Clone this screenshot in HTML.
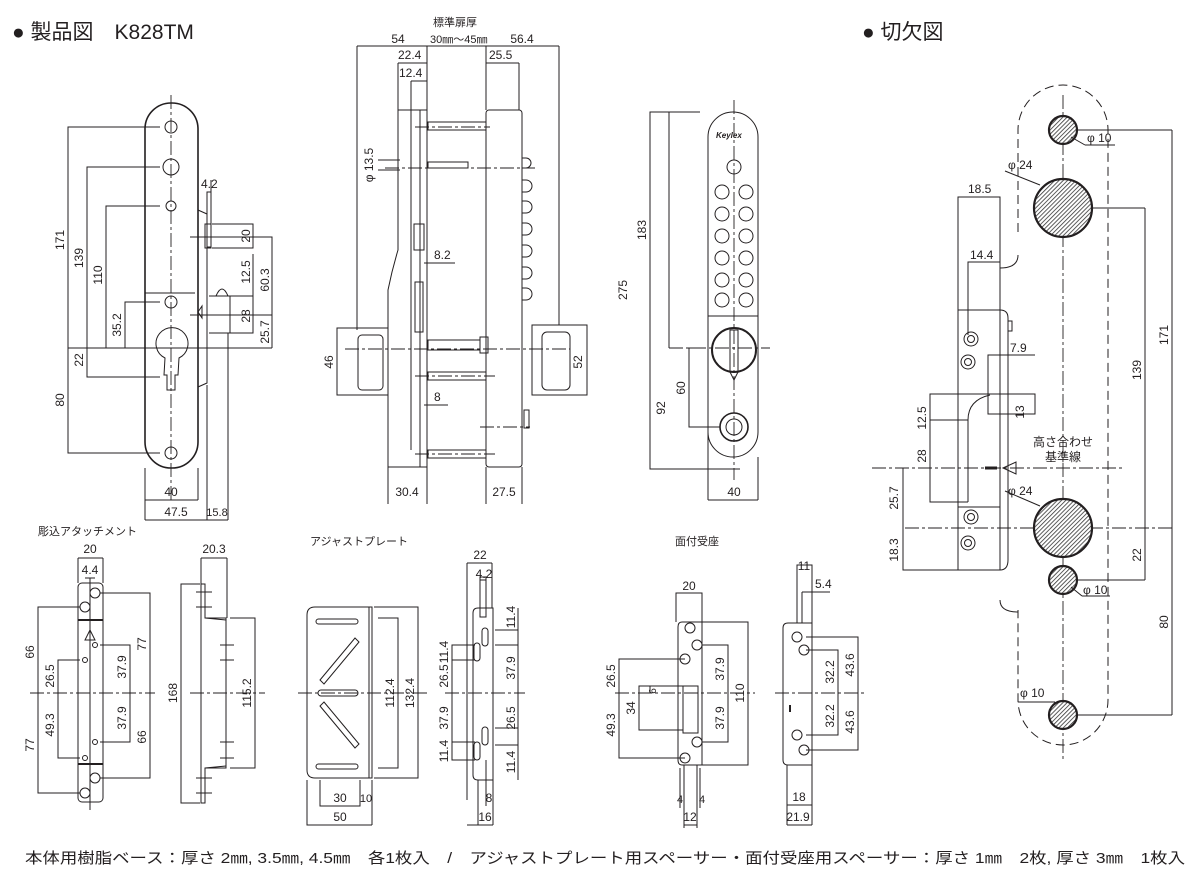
<!DOCTYPE html>
<html><head><meta charset="utf-8"><style>
html,body{margin:0;padding:0;background:#fff;width:1200px;height:874px;overflow:hidden}
svg{display:block}
text{font-family:"Liberation Sans","Noto Sans CJK JP",sans-serif;fill:#231f20;font-size:12px}
.s{fill:none;stroke:#231f20;stroke-width:1}
.t{fill:none;stroke:#231f20;stroke-width:1.6}
.d{fill:none;stroke:#231f20;stroke-width:0.9;stroke-dasharray:14 3 3 3}
.h{fill:url(#hat);stroke:#231f20;stroke-width:2.2}
</style></head><body>
<svg width="1200" height="874" viewBox="0 0 1200 874">
<defs><pattern id="hat" width="3" height="3" patternUnits="userSpaceOnUse" patternTransform="rotate(45)"><rect width="3" height="3" fill="#fff"/><line x1="0" y1="0" x2="0" y2="3" stroke="#333" stroke-width="1.6"/></pattern></defs>

<!-- headers -->
<text x="12" y="39" style="font-size:21px">● 製品図　K828TM</text>
<text x="862" y="39" style="font-size:21px">● 切欠図</text>

<!-- ===== Panel 1 front ===== -->
<rect class="t" x="145" y="103" width="53" height="365" rx="26"/>
<line class="d" x1="171" y1="95" x2="171" y2="500"/>
<g class="s">
<circle cx="171" cy="127" r="6"/><circle cx="171" cy="167" r="8"/><circle cx="171" cy="206" r="5"/><circle cx="171" cy="302" r="6"/><circle cx="171" cy="453" r="6"/>
<path d="M165 358 A16 16 0 1 1 179 358 L178 375 L175 375 L175 390 L167 390 L167 375 L164 375Z"/>
<line x1="145" y1="293" x2="195" y2="293"/>
<path d="M198 210 L207 214 L207 383 L198 387"/>
<rect x="207" y="192" width="4" height="55"/><rect x="205" y="224" width="6" height="24"/>
<path d="M209 296 L230 296 L230 333 L209 333"/><path d="M216 296 Q222 282 228 296"/>
<path d="M198 312 L202 306 L202 318Z"/>
<!-- dims -->
<polyline points="160,127 68,127 68,453 160,453"/>
<polyline points="160,167 87,167 87,377 160,377"/>
<polyline points="160,206 106,206 106,348"/>
<polyline points="160,302 125,302 125,348"/>
<line x1="68" y1="348" x2="272" y2="348"/>
<polyline points="212,224 253,224 253,248 212,248"/>
<polyline points="190,237 272,237 272,348"/>
<polyline points="222,296 253,296 253,333 230,333"/>
<line x1="253" y1="254" x2="253" y2="296"/><line x1="272" y1="315" x2="272" y2="348"/>
<line x1="190" y1="315" x2="272" y2="315"/>
<line x1="145" y1="468" x2="145" y2="520"/><line x1="198" y1="468" x2="198" y2="500"/><line x1="207" y1="385" x2="207" y2="520"/><line x1="228" y1="333" x2="228" y2="520"/>
<line x1="145" y1="500" x2="198" y2="500"/><line x1="145" y1="520" x2="228" y2="520"/>
<line x1="211" y1="180" x2="211" y2="192"/>
</g>
<text x="201" y="188">4.2</text>
<text transform="translate(64,240) rotate(-90)" text-anchor="middle">171</text>
<text transform="translate(83,258) rotate(-90)" text-anchor="middle">139</text>
<text transform="translate(102,275) rotate(-90)" text-anchor="middle">110</text>
<text transform="translate(121,325) rotate(-90)" text-anchor="middle">35.2</text>
<text transform="translate(83,360) rotate(-90)" text-anchor="middle">22</text>
<text transform="translate(64,400) rotate(-90)" text-anchor="middle">80</text>
<text transform="translate(250,236) rotate(-90)" text-anchor="middle">20</text>
<text transform="translate(250,272) rotate(-90)" text-anchor="middle">12.5</text>
<text transform="translate(269,280) rotate(-90)" text-anchor="middle">60.3</text>
<text transform="translate(250,316) rotate(-90)" text-anchor="middle">28</text>
<text transform="translate(269,332) rotate(-90)" text-anchor="middle">25.7</text>
<text x="171" y="496" text-anchor="middle">40</text>
<text x="176" y="516" text-anchor="middle">47.5</text>
<text x="217" y="516" text-anchor="middle" style="font-size:11px">15.8</text>

<!-- ===== Panel 2 side ===== -->
<text x="455" y="26" text-anchor="middle" style="font-size:11px">標準扉厚</text>
<text x="398" y="43" text-anchor="middle">54</text>
<text x="430" y="43" style="font-size:11px">30㎜～45㎜</text>
<text x="522" y="43" text-anchor="middle">56.4</text>
<g class="s">
<line x1="357" y1="46" x2="559" y2="46"/><line x1="357" y1="46" x2="357" y2="330"/><line x1="559" y1="46" x2="559" y2="325"/>
<line x1="427" y1="46" x2="427" y2="110"/><line x1="486" y1="46" x2="486" y2="110"/>
<line x1="398" y1="63" x2="427" y2="63"/><line x1="398" y1="63" x2="398" y2="110"/>
<line x1="411" y1="81" x2="427" y2="81"/><line x1="411" y1="81" x2="411" y2="450"/>
<line x1="486" y1="63" x2="519" y2="63"/><line x1="519" y1="63" x2="519" y2="110"/>
<path d="M398 110 L427 110 L427 467 L388 467 L388 290 Q392 270 398 250Z"/>
<line x1="420" y1="110" x2="420" y2="467"/>
<rect x="486" y="110" width="36" height="357" rx="3"/>
<rect x="414" y="224" width="10" height="26"/><rect x="415" y="282" width="8" height="50"/>
<g>
<rect x="428" y="122" width="58" height="8"/><rect x="428" y="162" width="40" height="6"/>
<rect x="428" y="340" width="52" height="10"/><rect x="428" y="372" width="58" height="8"/><rect x="428" y="450" width="58" height="8"/>
<rect x="480" y="337" width="8" height="16"/>
</g>
<path d="M522 158 h4 a4 4 0 0 1 0 10 h-4"/>
<path d="M522 180 h4 a5 5 0 0 1 0 12 h-4"/><path d="M522 201 h4 a5 5 0 0 1 0 12 h-4"/><path d="M522 223 h4 a5 5 0 0 1 0 12 h-4"/><path d="M522 245 h4 a5 5 0 0 1 0 12 h-4"/><path d="M522 267 h4 a5 5 0 0 1 0 12 h-4"/><path d="M522 288 h4 a5 5 0 0 1 0 12 h-4"/>
<rect x="524" y="410" width="5" height="18"/>
<rect x="337" y="328" width="51" height="67"/><rect x="358" y="335" width="25" height="55" rx="4"/>
<rect x="532" y="325" width="55" height="70"/><rect x="542" y="332" width="28" height="58" rx="5"/>
<line x1="378" y1="160" x2="400" y2="160"/><line x1="378" y1="170" x2="400" y2="170"/>
<line x1="424" y1="263" x2="455" y2="263"/><line x1="424" y1="405" x2="448" y2="405"/>
<line x1="388" y1="467" x2="388" y2="504"/><line x1="427" y1="467" x2="427" y2="504"/><line x1="486" y1="467" x2="486" y2="504"/><line x1="522" y1="467" x2="522" y2="504"/>
</g>
<line class="d" x1="345" y1="349" x2="570" y2="349"/><line class="d" x1="385" y1="168" x2="535" y2="168"/>
<line class="d" x1="415" y1="127" x2="490" y2="127"/><line class="d" x1="415" y1="376" x2="495" y2="376"/><line class="d" x1="415" y1="454" x2="495" y2="454"/>
<line class="d" x1="480" y1="427" x2="530" y2="427"/>
<text x="398" y="59">22.4</text><text x="399" y="77">12.4</text><text x="489" y="59">25.5</text>
<text transform="translate(373,165) rotate(-90)" text-anchor="middle">φ 13.5</text>
<text x="434" y="259">8.2</text><text x="434" y="401">8</text>
<text transform="translate(333,362) rotate(-90)" text-anchor="middle">46</text>
<text transform="translate(582,362) rotate(-90)" text-anchor="middle">52</text>
<text x="407" y="496" text-anchor="middle">30.4</text><text x="504" y="496" text-anchor="middle">27.5</text>

<!-- ===== Panel 3 keypad ===== -->
<g class="s">
<path d="M708 457 L708 137 A25 25 0 0 1 758 137 L758 432 A25 25 0 0 1 708 432"/>
<line x1="708" y1="316" x2="758" y2="316"/>
<circle cx="734" cy="167" r="7"/>
<circle cx="722" cy="192" r="7"/><circle cx="746" cy="192" r="7"/>
<circle cx="722" cy="214" r="7"/><circle cx="746" cy="214" r="7"/>
<circle cx="722" cy="236" r="7"/><circle cx="746" cy="236" r="7"/>
<circle cx="722" cy="258" r="7"/><circle cx="746" cy="258" r="7"/>
<circle cx="722" cy="280" r="7"/><circle cx="746" cy="280" r="7"/>
<circle cx="722" cy="300" r="7"/><circle cx="746" cy="300" r="7"/>
<circle cx="734" cy="350" r="22" stroke-width="2"/>
<path d="M730 330 L738 330 L738 372 L734 380 L730 372Z"/>
<circle cx="734" cy="427" r="14" stroke-width="1.6"/><circle cx="734" cy="427" r="8"/>
<polyline points="700,112 650,112 650,469 740,469"/>
<polyline points="700,112 669,112 669,348"/>
<polyline points="700,348 689,348 689,427 720,427"/>
<line x1="708" y1="457" x2="708" y2="500"/><line x1="758" y1="457" x2="758" y2="500"/><line x1="708" y1="500" x2="758" y2="500"/>
</g>
<line class="d" x1="734" y1="100" x2="734" y2="480"/><line class="d" x1="669" y1="348" x2="770" y2="348"/>
<text x="716" y="138" style="font-size:8px;font-style:italic;font-weight:bold">Keylex</text>
<text transform="translate(646,230) rotate(-90)" text-anchor="middle">183</text>
<text transform="translate(627,290) rotate(-90)" text-anchor="middle">275</text>
<text transform="translate(665,408) rotate(-90)" text-anchor="middle">92</text>
<text transform="translate(685,388) rotate(-90)" text-anchor="middle">60</text>
<text x="734" y="496" text-anchor="middle">40</text>

<!-- ===== Panel 4 cutout ===== -->
<path d="M1018 232 L1018 130 A45 45 0 0 1 1108 130 L1108 700 A45 45 0 0 1 1018 700 L1018 610" class="s" stroke-dasharray="9 5"/>
<path d="M1000 268 Q1018 268 1018 255 M1000 600 Q1000 612 1018 612" class="s"/>
<line class="d" x1="1063" y1="95" x2="1063" y2="760"/>
<line class="d" x1="872" y1="468" x2="1125" y2="468"/>
<line class="d" x1="905" y1="528" x2="1172" y2="528"/>
<circle class="h" cx="1063" cy="130" r="14"/><circle class="h" cx="1063" cy="208" r="29"/>
<circle class="h" cx="1063" cy="528" r="29"/><circle class="h" cx="1063" cy="580" r="14"/><circle class="h" cx="1063" cy="715" r="14"/>
<g class="s">
<rect x="958" y="197" width="42" height="373"/>
<polyline points="968,335 968,262 1000,262"/>
<path d="M958 310 L1000 310 Q1008 310 1008 318 L1008 560 Q1008 570 1000 570"/>
<rect x="1008" y="321" width="4" height="10"/>
<circle cx="971" cy="339" r="7"/><circle cx="971" cy="339" r="3.5"/>
<circle cx="968" cy="362" r="7"/><circle cx="968" cy="362" r="3.5"/>
<circle cx="971" cy="517" r="7"/><circle cx="971" cy="517" r="3.5"/>
<circle cx="968" cy="543" r="7"/><circle cx="968" cy="543" r="3.5"/>
<line x1="958" y1="507" x2="1000" y2="507"/><line x1="958" y1="394" x2="1000" y2="394"/>
<polyline points="1035,355 988,355 988,414 1035,414 1035,394 988,394"/>
<path d="M968 420 Q968 400 990 395"/><line x1="968" y1="420" x2="968" y2="502"/>
<polyline points="998,394 930,394 930,502 968,502"/>
<line x1="930" y1="420" x2="968" y2="420"/>
<polyline points="958,570 903,570 903,468"/>
<path d="M1003 468 L1016 462 L1016 474Z"/>
<line x1="985" y1="468" x2="997" y2="468" stroke-width="3"/>
<line x1="1077" y1="130" x2="1172" y2="130"/><line x1="1092" y1="208" x2="1145" y2="208"/>
<line x1="1172" y1="130" x2="1172" y2="715"/><line x1="1145" y1="208" x2="1145" y2="580"/>
<line x1="1077" y1="580" x2="1145" y2="580"/><line x1="1077" y1="715" x2="1172" y2="715"/>
<line x1="1071" y1="137" x2="1085" y2="145"/><line x1="1085" y1="145" x2="1115" y2="145"/>
<line x1="1071" y1="587" x2="1082" y2="596"/><line x1="1082" y1="596" x2="1110" y2="596"/>
<line x1="1005" y1="171" x2="1040" y2="185"/><line x1="1005" y1="491" x2="1040" y2="506"/>
<line x1="1018" y1="702" x2="1055" y2="702"/>
</g>
<text x="1087" y="142">φ 10</text><text x="1008" y="169">φ 24</text>
<text x="968" y="193">18.5</text><text x="970" y="259">14.4</text><text x="1010" y="352">7.9</text>
<text transform="translate(1024,412) rotate(-90)" text-anchor="middle">13</text>
<text transform="translate(926,418) rotate(-90)" text-anchor="middle">12.5</text>
<text transform="translate(926,456) rotate(-90)" text-anchor="middle">28</text>
<text transform="translate(898,498) rotate(-90)" text-anchor="middle">25.7</text>
<text transform="translate(898,550) rotate(-90)" text-anchor="middle">18.3</text>
<text x="1063" y="446" text-anchor="middle">高さ合わせ</text><text x="1063" y="461" text-anchor="middle">基準線</text>
<text x="1008" y="495">φ 24</text><text x="1083" y="594">φ 10</text><text x="1020" y="697">φ 10</text>
<text transform="translate(1168,335) rotate(-90)" text-anchor="middle">171</text>
<text transform="translate(1141,370) rotate(-90)" text-anchor="middle">139</text>
<text transform="translate(1141,555) rotate(-90)" text-anchor="middle">22</text>
<text transform="translate(1168,622) rotate(-90)" text-anchor="middle">80</text>

<!-- ===== Bottom row ===== -->
<text x="38" y="535" style="font-size:11px">彫込アタッチメント</text>
<text x="310" y="545" style="font-size:11px">アジャストプレート</text>
<text x="675" y="545" style="font-size:11px">面付受座</text>
<line class="d" x1="30" y1="693" x2="155" y2="693"/>
<line class="d" x1="190" y1="693" x2="265" y2="693"/>
<line class="d" x1="298" y1="693" x2="430" y2="693"/>
<line class="d" x1="445" y1="693" x2="525" y2="693"/>
<line class="d" x1="615" y1="693" x2="755" y2="693"/>
<line class="d" x1="775" y1="693" x2="865" y2="693"/>
<g class="s">
<!-- a -->
<rect x="78" y="583" width="25" height="219" rx="4"/>
<line x1="78" y1="620" x2="103" y2="620" stroke-width="2"/><line x1="78" y1="764" x2="103" y2="764" stroke-width="2"/>
<circle cx="95" cy="593" r="5"/><circle cx="85" cy="607" r="5"/><circle cx="95" cy="778" r="5"/><circle cx="85" cy="793" r="5"/>
<circle cx="95" cy="645" r="2.5"/><circle cx="85" cy="660" r="2.5"/><circle cx="95" cy="742" r="2.5"/><circle cx="85" cy="758" r="2.5"/>
<path d="M90 630 L85 640 L95 640Z"/>
<line x1="90" y1="578" x2="90" y2="810"/>
<polyline points="78,558 78,583"/><polyline points="103,558 103,583"/><line x1="78" y1="558" x2="103" y2="558"/>
<line x1="85" y1="578" x2="95" y2="578"/>
<polyline points="80,607 38,607 38,793 80,793"/>
<polyline points="80,660 58,660 58,758 80,758"/>
<polyline points="100,593 150,593 150,778 100,778"/>
<polyline points="100,645 130,645 130,742 100,742"/>
<!-- b -->
<path d="M201 584 L205 584 L205 618 L226 618 L226 768 L205 768 L205 803 L201 803Z"/>
<path d="M205 618 L226 620 M205 768 L226 766"/>
<line x1="201" y1="558" x2="201" y2="584"/><line x1="227" y1="558" x2="227" y2="618"/><line x1="201" y1="558" x2="227" y2="558"/>
<polyline points="200,584 181,584 181,803 200,803"/>
<polyline points="230,618 255,618 255,768 230,768"/>
<line x1="196" y1="592" x2="212" y2="592"/><line x1="196" y1="607" x2="212" y2="607"/><line x1="220" y1="645" x2="234" y2="645"/><line x1="220" y1="660" x2="234" y2="660"/><line x1="220" y1="742" x2="234" y2="742"/><line x1="220" y1="758" x2="234" y2="758"/><line x1="196" y1="778" x2="212" y2="778"/><line x1="196" y1="793" x2="212" y2="793"/>
<!-- c -->
<path d="M315 607 L369 607 L369 778 L315 778 Q307 778 307 770 L307 615 Q307 607 315 607Z"/>
<rect x="369" y="607" width="3" height="171"/>
<rect x="316" y="619" width="42" height="5" rx="2.5"/><rect x="316" y="764" width="42" height="5" rx="2.5"/>
<rect x="318" y="690" width="40" height="6" rx="3"/>
<path d="M320 680 L355 638 L359 642 L324 684Z"/><path d="M320 706 L355 748 L359 744 L324 702Z"/>
<polyline points="378,618 398,618 398,768 378,768"/><polyline points="374,607 418,607 418,778 374,778"/>
<polyline points="320,780 320,806 360,806 360,780"/><line x1="372" y1="780" x2="372" y2="825"/>
<polyline points="307,780 307,825 372,825"/>
<!-- d -->
<path d="M478 608 L493 608 L493 780 L478 780 Q473 780 473 775 L473 613 Q473 608 478 608Z"/>
<rect x="480" y="577" width="6" height="40"/>
<rect x="482" y="628" width="6" height="18" rx="3"/><rect x="474" y="643" width="6" height="18" rx="3"/>
<rect x="482" y="727" width="6" height="18" rx="3"/><rect x="474" y="742" width="6" height="18" rx="3"/>
<line x1="467" y1="563" x2="492" y2="563"/><line x1="467" y1="563" x2="467" y2="800"/><line x1="492" y1="563" x2="492" y2="608"/>
<line x1="480" y1="580" x2="486" y2="580"/>
<polyline points="475,645 452,645 452,760 475,760"/><line x1="452" y1="660" x2="475" y2="660"/><line x1="452" y1="742" x2="475" y2="742"/>
<polyline points="495,630 518,630"/><line x1="495" y1="645" x2="518" y2="645"/><line x1="495" y1="728" x2="518" y2="728"/><line x1="495" y1="745" x2="518" y2="745"/>
<line x1="518" y1="608" x2="518" y2="780"/>
<line x1="478" y1="780" x2="478" y2="825"/><line x1="493" y1="780" x2="493" y2="825"/><line x1="467" y1="825" x2="493" y2="825"/><line x1="486" y1="760" x2="486" y2="806"/>
<!-- e -->
<path d="M682 622 L702 622 L702 765 L682 765 Q678 765 678 760 L678 627 Q678 622 682 622Z"/>
<rect x="683" y="686" width="15" height="47"/>
<circle cx="690" cy="628" r="5"/><circle cx="697" cy="645" r="5"/><circle cx="685" cy="659" r="5"/><circle cx="697" cy="742" r="5"/><circle cx="685" cy="758" r="5"/>
<polyline points="676,622 676,593 702,593 702,622"/>
<polyline points="702,622 748,622 748,765 702,765"/>
<polyline points="702,645 728,645 728,742 702,742"/>
<polyline points="685,659 619,659 619,758 685,758"/>
<polyline points="683,686 639,686 639,730 683,730"/><line x1="650" y1="686" x2="650" y2="693"/>
<line x1="684" y1="765" x2="684" y2="828"/><line x1="697" y1="765" x2="697" y2="828"/><line x1="680" y1="768" x2="680" y2="808"/><line x1="700" y1="768" x2="700" y2="808"/>
<line x1="684" y1="825" x2="697" y2="825"/>
<!-- f -->
<path d="M788 623 L812 623 L812 765 L788 765 Q783 765 783 760 L783 628 Q783 623 788 623Z"/>
<circle cx="797" cy="637" r="5"/><circle cx="804" cy="650" r="5"/><circle cx="797" cy="735" r="5"/><circle cx="804" cy="750" r="5"/>
<line x1="790" y1="705" x2="790" y2="712" stroke-width="2"/>
<polyline points="797,623 797,565 812,565 812,623"/><line x1="802" y1="592" x2="830" y2="592"/><line x1="802" y1="592" x2="802" y2="623"/>
<polyline points="806,637 858,637 858,750 806,750"/><polyline points="806,650 838,650 838,735 806,735"/>
<line x1="787" y1="765" x2="787" y2="825"/><line x1="812" y1="765" x2="812" y2="825"/><line x1="787" y1="805" x2="812" y2="805"/><line x1="787" y1="825" x2="812" y2="825"/>
</g>
<!-- bottom labels -->
<text x="90" y="553" text-anchor="middle">20</text><text x="90" y="574" text-anchor="middle">4.4</text>
<text transform="translate(34,652) rotate(-90)" text-anchor="middle">66</text>
<text transform="translate(34,745) rotate(-90)" text-anchor="middle">77</text>
<text transform="translate(54,676) rotate(-90)" text-anchor="middle">26.5</text>
<text transform="translate(54,725) rotate(-90)" text-anchor="middle">49.3</text>
<text transform="translate(126,667) rotate(-90)" text-anchor="middle">37.9</text>
<text transform="translate(126,718) rotate(-90)" text-anchor="middle">37.9</text>
<text transform="translate(146,644) rotate(-90)" text-anchor="middle">77</text>
<text transform="translate(146,737) rotate(-90)" text-anchor="middle">66</text>
<text x="214" y="553" text-anchor="middle">20.3</text>
<text transform="translate(177,693) rotate(-90)" text-anchor="middle">168</text>
<text transform="translate(251,693) rotate(-90)" text-anchor="middle">115.2</text>
<text transform="translate(394,693) rotate(-90)" text-anchor="middle">112.4</text>
<text transform="translate(414,693) rotate(-90)" text-anchor="middle">132.4</text>
<text x="340" y="802" text-anchor="middle">30</text><text x="366" y="802" text-anchor="middle" style="font-size:11px">10</text><text x="340" y="821" text-anchor="middle">50</text>
<text x="480" y="559" text-anchor="middle">22</text><text x="484" y="578" text-anchor="middle">4.2</text>
<text transform="translate(515,617) rotate(-90)" text-anchor="middle">11.4</text>
<text transform="translate(515,668) rotate(-90)" text-anchor="middle">37.9</text>
<text transform="translate(515,718) rotate(-90)" text-anchor="middle">26.5</text>
<text transform="translate(515,762) rotate(-90)" text-anchor="middle">11.4</text>
<text transform="translate(448,652) rotate(-90)" text-anchor="middle">11.4</text>
<text transform="translate(448,676) rotate(-90)" text-anchor="middle">26.5</text>
<text transform="translate(448,718) rotate(-90)" text-anchor="middle">37.9</text>
<text transform="translate(448,751) rotate(-90)" text-anchor="middle">11.4</text>
<text x="489" y="802" text-anchor="middle">8</text><text x="485" y="821" text-anchor="middle">16</text>
<text x="689" y="590" text-anchor="middle">20</text>
<text transform="translate(615,676) rotate(-90)" text-anchor="middle">26.5</text>
<text transform="translate(615,725) rotate(-90)" text-anchor="middle">49.3</text>
<text transform="translate(635,708) rotate(-90)" text-anchor="middle">34</text>
<text transform="translate(656,691) rotate(-90)" text-anchor="middle" style="font-size:10px">6</text>
<text transform="translate(724,669) rotate(-90)" text-anchor="middle">37.9</text>
<text transform="translate(724,718) rotate(-90)" text-anchor="middle">37.9</text>
<text transform="translate(744,693) rotate(-90)" text-anchor="middle">110</text>
<text x="680" y="803" text-anchor="middle" style="font-size:11px">4</text><text x="702" y="803" text-anchor="middle" style="font-size:11px">4</text>
<text x="690" y="821" text-anchor="middle">12</text>
<text x="804" y="570" text-anchor="middle">11</text><text x="815" y="588">5.4</text>
<text transform="translate(834,672) rotate(-90)" text-anchor="middle">32.2</text>
<text transform="translate(834,716) rotate(-90)" text-anchor="middle">32.2</text>
<text transform="translate(854,665) rotate(-90)" text-anchor="middle">43.6</text>
<text transform="translate(854,722) rotate(-90)" text-anchor="middle">43.6</text>
<text x="799" y="801" text-anchor="middle">18</text><text x="798" y="821" text-anchor="middle">21.9</text>

<text x="25" y="863" style="font-size:15px" textLength="1160" lengthAdjust="spacingAndGlyphs">本体用樹脂ベース：厚さ 2㎜, 3.5㎜, 4.5㎜　各1枚入　/　アジャストプレート用スペーサー・面付受座用スペーサー：厚さ 1㎜　2枚, 厚さ 3㎜　1枚入</text>
</svg>
</body></html>
